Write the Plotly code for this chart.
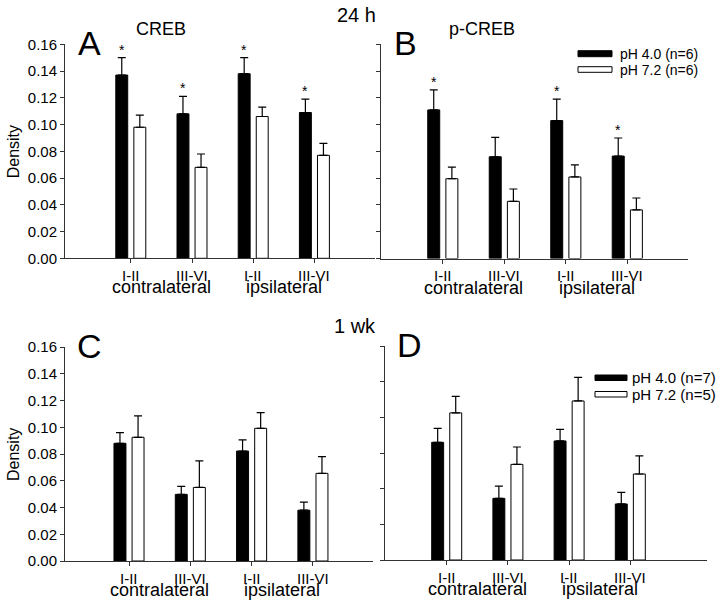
import plotly.graph_objects as go

W, H = 720, 606

# ---------------- data ----------------
layers = ["I-II", "III-VI", "I-II", "III-VI"]
group_pos = [1, 2, 3, 4]
sides = ["contralateral", "ipsilateral"]
side_pos = [1.5, 3.5]

a_ph4 = [0.137, 0.108, 0.138, 0.109]
a_ph4_err = [0.013, 0.013, 0.012, 0.010]
a_ph7 = [0.098, 0.068, 0.106, 0.077]
a_ph7_err = [0.009, 0.010, 0.007, 0.009]
a_star = [True, True, True, True]

b_ph4 = [0.111, 0.076, 0.103, 0.0765]
b_ph4_err = [0.015, 0.0145, 0.016, 0.0135]
b_ph7 = [0.0596, 0.0427, 0.0609, 0.0363]
b_ph7_err = [0.0087, 0.0092, 0.009, 0.0089]
b_star = [True, False, True, True]

c_ph4 = [0.088, 0.0498, 0.0822, 0.038]
c_ph4_err = [0.008, 0.006, 0.0083, 0.006]
c_ph7 = [0.0925, 0.055, 0.0992, 0.0655]
c_ph7_err = [0.016, 0.0198, 0.0118, 0.0125]

d_ph4 = [0.088, 0.0461, 0.089, 0.0419]
d_ph4_err = [0.0104, 0.0092, 0.0087, 0.0087]
d_ph7 = [0.110, 0.0715, 0.1189, 0.0643]
d_ph7_err = [0.0124, 0.013, 0.0177, 0.0135]

legend_24h = ["pH 4.0 (n=6)", "pH 7.2 (n=6)"]
legend_1wk = ["pH 4.0 (n=7)", "pH 7.2 (n=5)"]
y_ticks = [0.00, 0.02, 0.04, 0.06, 0.08, 0.10, 0.12, 0.14, 0.16]
d_ticks = [0.0, 0.16 / 6, 0.32 / 6, 0.48 / 6, 0.64 / 6, 0.80 / 6, 0.16]

FONT = "Liberation Sans, Arial, sans-serif"
AXC = "#333333"


def px_x(p):
    return p / W


def px_y(p):
    return 1 - p / H


panels = [
    dict(name="A", title="CREB", x0=65, x1=375, yt=44.3, yb=258.3, xr=[-0.075, 4.99],
         ph4=a_ph4, e4=a_ph4_err, ph7=a_ph7, e7=a_ph7_err, star=a_star, labels=True, ticks=y_ticks),
    dict(name="B", title="p-CREB", x0=381, x1=688, yt=44.3, yb=258.5, xr=[-0.005, 4.987],
         ph4=b_ph4, e4=b_ph4_err, ph7=b_ph7, e7=b_ph7_err, star=b_star, labels=False, ticks=y_ticks),
    dict(name="C", title="", x0=65, x1=373, yt=347, yb=561, xr=[-0.044, 4.98],
         ph4=c_ph4, e4=c_ph4_err, ph7=c_ph7, e7=c_ph7_err, star=None, labels=True, ticks=y_ticks),
    dict(name="D", title="", x0=385, x1=707, yt=346, yb=560, xr=[-0.008, 5.253],
         ph4=d_ph4, e4=d_ph4_err, ph7=d_ph7, e7=d_ph7_err, star=None, labels=False, ticks=d_ticks),
]

BW = 0.195
OFF_BLACK = -0.245
OFF_WHITE = 0.05

fig = go.Figure()
annotations = []
shapes = []
layout_axes = {}

for i, p in enumerate(panels, start=1):
    xa = "x" if i == 1 else f"x{i}"
    ya = "y" if i == 1 else f"y{i}"
    xkey = "xaxis" if i == 1 else f"xaxis{i}"
    ykey = "yaxis" if i == 1 else f"yaxis{i}"

    fig.add_trace(go.Bar(
        x=group_pos, y=p["ph4"], width=BW, offset=OFF_BLACK,
        marker=dict(color="black", line=dict(color="black", width=1)),
        error_y=dict(type="data", array=p["e4"], arrayminus=[0] * 4, symmetric=False,
                     color="black", thickness=1.2, width=4),
        xaxis=xa, yaxis=ya, showlegend=False))
    fig.add_trace(go.Bar(
        x=group_pos, y=p["ph7"], width=BW, offset=OFF_WHITE,
        marker=dict(color="white", line=dict(color="black", width=1)),
        error_y=dict(type="data", array=p["e7"], arrayminus=[0] * 4, symmetric=False,
                     color="black", thickness=1.2, width=4),
        xaxis=xa, yaxis=ya, showlegend=False))

    layout_axes[xkey] = dict(
        domain=[px_x(p["x0"]), px_x(p["x1"])], range=p["xr"], anchor=ya,
        showline=True, linecolor=AXC, linewidth=1, showgrid=False, zeroline=False,
        ticks="outside", ticklen=4, tickcolor=AXC, tickwidth=1, automargin=False,
        tickvals=group_pos, showticklabels=False, fixedrange=True)
    layout_axes[ykey] = dict(
        domain=[px_y(p["yb"]), px_y(p["yt"])], range=[0, 0.16], anchor=xa,
        showline=True, linecolor=AXC, linewidth=1, showgrid=False, zeroline=False,
        ticks="outside", ticklen=4, tickcolor=AXC, tickwidth=1, automargin=False,
        tickvals=p["ticks"], tickformat=".2f", showticklabels=p["labels"],
        tickfont=dict(family=FONT, size=15, color="black"), fixedrange=True)

    # group tick labels
    for lab, gx in zip(layers, group_pos):
        annotations.append(dict(
            x=gx, y=0, xref=xa, yref=f"{ya} domain", text=lab, showarrow=False,
            xanchor="center", yanchor="middle", yshift=-17,
            font=dict(family=FONT, size=15, color="black")))
    # side labels under the group ticks
    for s, sp in zip(sides, side_pos):
        annotations.append(dict(
            x=sp, y=0, xref=xa, yref=f"{ya} domain", text=s, showarrow=False,
            xanchor="center", yanchor="middle", yshift=-29,
            font=dict(family=FONT, size=18, color="black")))

    # panel letter
    annotations.append(dict(
        x=px_x(p["x0"] + 24), y=px_y(p["yt"] - 1), xref="paper", yref="paper",
        text=p["name"], showarrow=False, xanchor="center", yanchor="middle",
        font=dict(family=FONT, size=34, color="black")))
    if p["title"]:
        annotations.append(dict(
            x=px_x(p["x0"] + (96 if p["name"] == "A" else 101)), y=px_y(29),
            xref="paper", yref="paper", text=p["title"], showarrow=False,
            xanchor="center", yanchor="middle",
            font=dict(family=FONT, size=18, color="black")))
    if p["labels"]:
        annotations.append(dict(
            x=px_x(13), y=px_y((p["yt"] + p["yb"]) / 2), xref="paper", yref="paper",
            text="Density", textangle=-90, showarrow=False,
            xanchor="center", yanchor="middle",
            font=dict(family=FONT, size=16, color="black")))
    if p["star"]:
        for gx, v, e, st in zip(group_pos, p["ph4"], p["e4"], p["star"]):
            if st:
                annotations.append(dict(
                    x=gx + OFF_BLACK + BW / 2, y=v + e, xref=xa, yref=ya, text="*",
                    showarrow=False, xanchor="center", yanchor="bottom", yshift=-2,
                    font=dict(family=FONT, size=14, color="black")))

# time titles
annotations.append(dict(x=px_x(356), y=px_y(15), xref="paper", yref="paper", text="24 h",
                        showarrow=False, xanchor="center", yanchor="middle",
                        font=dict(family=FONT, size=20, color="black")))
annotations.append(dict(x=px_x(355), y=px_y(326), xref="paper", yref="paper", text="1 wk",
                        showarrow=False, xanchor="center", yanchor="middle",
                        font=dict(family=FONT, size=20, color="black")))


# legends (drawn keys + text)
def add_legend(labels, sx0, sx1, rows, tx, size):
    fills = ["black", "white"]
    for lab, (r0, r1), fc in zip(labels, rows, fills):
        shapes.append(dict(type="rect", xref="paper", yref="paper",
                           x0=px_x(sx0), x1=px_x(sx1), y0=px_y(r1), y1=px_y(r0),
                           fillcolor=fc, line=dict(color="black", width=1)))
        annotations.append(dict(x=px_x(tx), y=px_y((r0 + r1) / 2), xref="paper", yref="paper",
                                text=lab, showarrow=False, xanchor="left", yanchor="middle",
                                font=dict(family=FONT, size=size, color="black")))


add_legend(legend_24h, 578, 612, [(50.7, 56.7), (66.7, 72.3)], 618, 14)
add_legend(legend_1wk, 595, 627, [(375, 380.5), (391.5, 397)], 630, 15)

fig.update_layout(
    template="none",
    width=W, height=H, autosize=False,
    margin=dict(l=0, r=0, t=0, b=0, pad=0, autoexpand=False),
    paper_bgcolor="white", plot_bgcolor="white",
    barmode="overlay", showlegend=False,
    annotations=annotations, shapes=shapes,
    font=dict(family=FONT, color="black"),
    **layout_axes)

fig.write_html(
    "out.html",
    config={"responsive": False, "displayModeBar": False},
    default_width="720px",
    default_height="606px",
    post_script=(
        "document.documentElement.style.margin='0';"
        "document.body.style.margin='0';document.body.style.padding='0';"
        "document.body.style.overflow='hidden';"
        "var g=document.getElementById('{plot_id}');"
        "g.style.position='absolute';g.style.left='0px';g.style.top='0px';"
        "g.style.width='720px';g.style.height='606px';"
    ),
)
